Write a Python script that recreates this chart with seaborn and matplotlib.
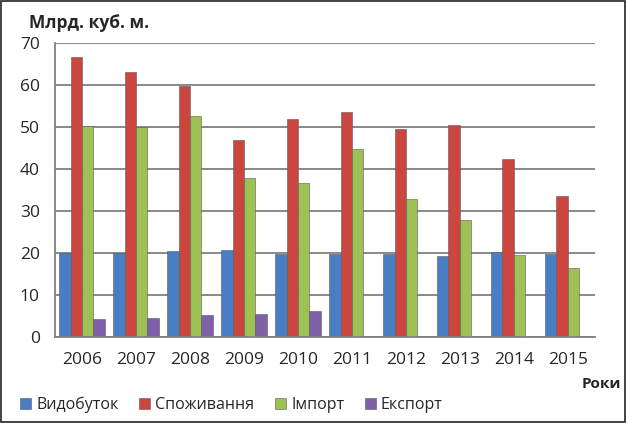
import numpy as np
import pandas as pd
import seaborn as sns
from matplotlib import pyplot as plt
from matplotlib.patches import Rectangle

years = ["2006", "2007", "2008", "2009", "2010", "2011", "2012", "2013", "2014", "2015"]
production = [20.0, 20.0, 20.5, 20.7, 19.8, 19.8, 19.7, 19.4, 20.2, 19.9]
consumption = [66.7, 63.1, 59.9, 47.0, 52.0, 53.7, 49.6, 50.4, 42.5, 33.7]
imports = [50.3, 50.1, 52.6, 38.0, 36.6, 44.8, 33.0, 28.0, 19.5, 16.5]
exports = [4.3, 4.5, 5.2, 5.5, 6.3, 0.1, 0.1, 0.1, 0.1, 0.1]
series = ["Видобуток", "Споживання", "Імпорт", "Експорт"]
colors = ["#4A7EC4", "#CC4640", "#9DC253", "#8060A8"]

df = pd.DataFrame({
    "year": years * 4,
    "value": production + consumption + imports + exports,
    "series": np.repeat(series, len(years)),
})

sns.set_style("white")
plt.rcParams["font.family"] = ["Open Sans", "DejaVu Sans"]

fig = plt.figure(figsize=(6.26, 4.23), dpi=100)
ax = fig.add_axes([0.088, 0.203, 0.862, 0.695])

sns.barplot(data=df, x="year", y="value", hue="series", palette=colors,
            saturation=1, width=0.84, edgecolor="#5a5a5a", linewidth=0.4,
            ax=ax, legend=True)

ax.set_ylim(0, 70)
ax.set_yticks(range(0, 71, 10))
ax.yaxis.grid(True, color="#808080", linewidth=1.3)
ax.set_axisbelow(True)
ax.set_xlim(-0.5, len(years) - 0.5)
ax.set_xlabel("")
ax.set_ylabel("")

for side in ["top", "right"]:
    ax.spines[side].set_visible(False)
for side in ["left", "bottom"]:
    ax.spines[side].set_color("#808080")
    ax.spines[side].set_linewidth(1.3)

ax.tick_params(axis="y", length=5, color="#808080", labelsize=12.5, pad=6)
ax.tick_params(axis="x", length=0, labelsize=12.5, pad=11)
ax.set_xticks(np.arange(-0.5, len(years), 1), minor=True)
ax.tick_params(axis="x", which="minor", length=5, color="#808080")

fig.text(0.046, 0.945, "Млрд. куб. м.", fontsize=12.5, fontweight="bold", va="center")
fig.text(0.993, 0.093, "Роки", fontsize=11, fontweight="bold", ha="right", va="center")

handles, labels = ax.get_legend_handles_labels()
ax.legend(handles, labels, ncol=4, loc="lower left", bbox_to_anchor=(0.022, 0.008),
          bbox_transform=fig.transFigure, frameon=False, fontsize=11.5,
          handlelength=0.7, handleheight=0.7, handletextpad=0.3, columnspacing=1.3,
          borderaxespad=0)

fig.patches.append(Rectangle((0.002, 0.003), 0.996, 0.994, transform=fig.transFigure,
                             fill=False, edgecolor="#222222", linewidth=1.2))

fig.savefig("out.png", dpi=100)
